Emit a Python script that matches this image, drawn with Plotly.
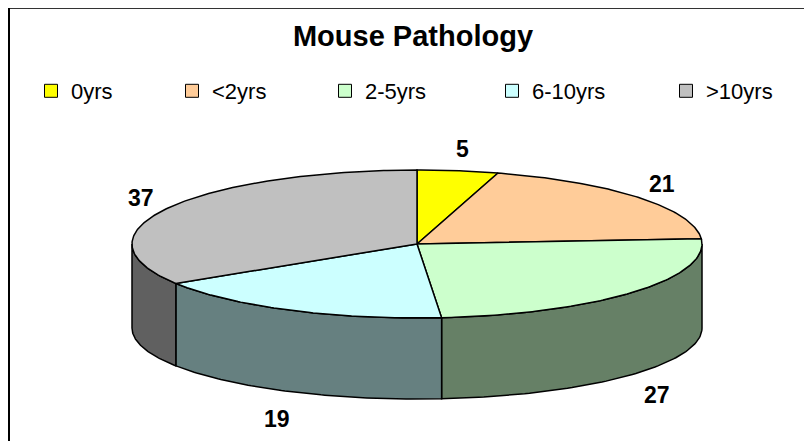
import numpy as np
import plotly.graph_objects as go

# ---- data ----
categories = ["0yrs", "<2yrs", "2-5yrs", "6-10yrs", ">10yrs"]
values = [5, 21, 27, 19, 37]
top_colors = ["#FFFF00", "#FFCC99", "#CCFFCC", "#CCFFFF", "#C0C0C0"]
side_colors = ["#808000", "#806650", "#668066", "#668080", "#606060"]
title_text = "Mouse Pathology"

# ---- geometry (styling of the 3D pie), in page pixels ----
W, H = 812, 441
OFF = 8                      # page body margin
cx, cy, rx, ry = 417, 244, 285, 74
cy2, ry2 = 328, 71          # bottom ellipse
depth = cy2 - cy
FONT = "Liberation Sans, Arial, sans-serif"


def px(p):
    return (p - OFF) / W


def py(p):
    return 1 - (p - OFF) / H


def top_pt(t):
    r = np.radians(t)
    return cx + rx * np.sin(r), cy - ry * np.cos(r)


def bot_pt(t):
    r = np.radians(t)
    return cx + rx * np.sin(r), cy2 - ry2 * np.cos(r)


total = sum(values)
bounds = np.concatenate([[0], np.cumsum(values)]) / total * 360.0

fig = go.Figure()

# side walls (front half only: 90..270 deg clockwise from top)
for i, v in enumerate(values):
    a, b = bounds[i], bounds[i + 1]
    lo, hi = max(a, 90), min(b, 270)
    if hi <= lo:
        continue
    ts = np.linspace(lo, hi, 80)
    xs_t, ys_t = top_pt(ts)
    xs_b, ys_b = bot_pt(ts[::-1])
    xs = np.concatenate([xs_t, xs_b, xs_t[:1]])
    ys = np.concatenate([ys_t, ys_b, ys_t[:1]])
    fig.add_trace(go.Scatter(x=xs, y=ys, mode="lines", fill="toself",
                             fillcolor=side_colors[i],
                             line=dict(color="black", width=1.5),
                             showlegend=False, hoverinfo="skip"))

# top faces
for i, v in enumerate(values):
    a, b = bounds[i], bounds[i + 1]
    n = max(4, int((b - a) * 1.5))
    ts = np.linspace(a, b, n)
    xs_a, ys_a = top_pt(ts)
    xs = np.concatenate([[cx], xs_a, [cx]])
    ys = np.concatenate([[cy], ys_a, [cy]])
    fig.add_trace(go.Scatter(x=xs, y=ys, mode="lines", fill="toself",
                             fillcolor=top_colors[i],
                             line=dict(color="black", width=1.5),
                             showlegend=False,
                             hovertemplate=f"{categories[i]}: {v}<extra></extra>"))

# legend entries (one legend per item, positioned like the original)
legend_box_left = [45, 186, 339, 506, 680]
for i, c in enumerate(categories):
    key = "legend" if i == 0 else f"legend{i+1}"
    fig.add_trace(go.Scatter(x=[None], y=[None], mode="markers", name=c,
                             marker=dict(symbol="square", size=13,
                                         color=top_colors[i],
                                         line=dict(color="black", width=1)),
                             legend=key, showlegend=True))
    fig.update_layout(**{key: dict(x=px(legend_box_left[i] - 14), y=py(91),
                                   xanchor="left", yanchor="middle",
                                   bgcolor="rgba(0,0,0,0)",
                                   font=dict(family=FONT, size=22, color="black"))})

# data labels
for i, v in enumerate(values):
    mid = (bounds[i] + bounds[i + 1]) / 2
    r = np.radians(mid)
    lx = cx + (rx + 30) * np.sin(r)
    ly = cy - (ry + 22) * np.cos(r)
    if np.cos(r) < 0:
        ly += depth + 5
    fig.add_annotation(x=lx, y=ly, text=f"<b>{v}</b>", showarrow=False,
                       font=dict(family=FONT, size=23, color="black"),
                       xanchor="center", yanchor="middle")

# frame (left and top edges visible)
fig.add_shape(type="line", xref="paper", yref="paper",
              x0=px(9), x1=1, y0=1, y1=1,
              line=dict(color="#333333", width=2))
fig.add_shape(type="line", xref="paper", yref="paper",
              x0=px(9), x1=px(9), y0=0, y1=1,
              line=dict(color="black", width=2))

fig.update_layout(
    width=W, height=H,
    margin=dict(l=0, r=0, t=0, b=0),
    paper_bgcolor="white", plot_bgcolor="white",
    title=dict(text=f"<b>{title_text}</b>", x=px(413), xanchor="center",
               y=py(36), yanchor="middle",
               font=dict(family=FONT, size=29, color="black")),
    xaxis=dict(range=[OFF, W + OFF], visible=False, fixedrange=True),
    yaxis=dict(range=[H + OFF, OFF], visible=False, fixedrange=True),
    showlegend=True,
)

fig.write_html("out.html")
